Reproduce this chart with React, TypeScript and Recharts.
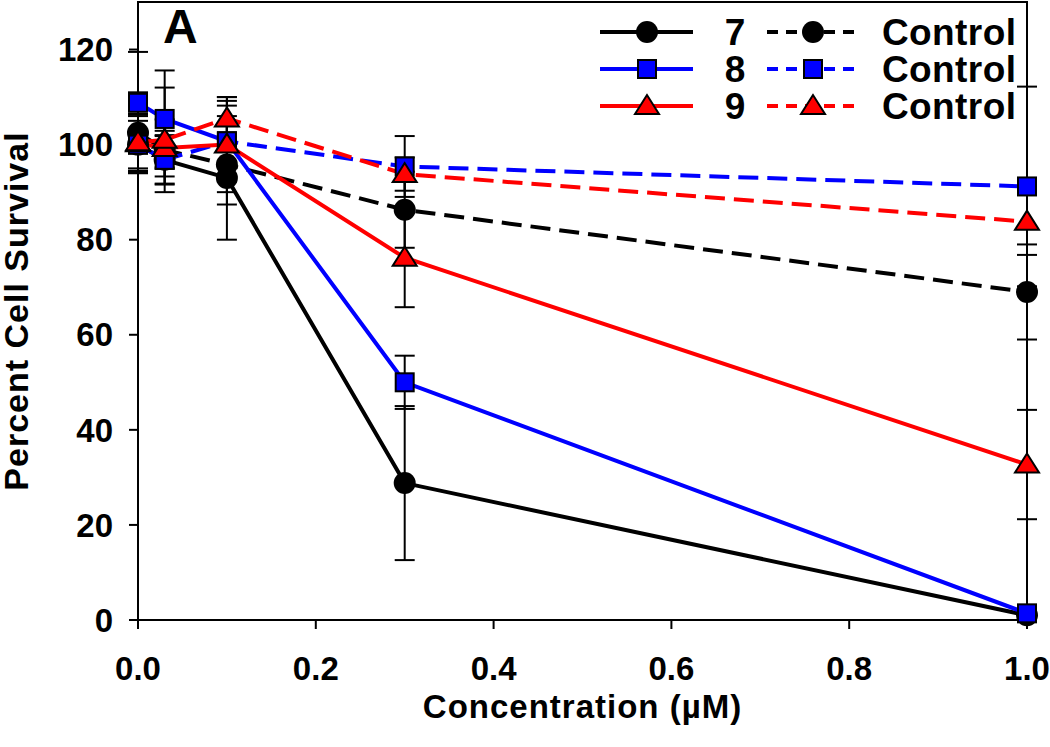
import React from "react";
import { LineChart, Line, XAxis, YAxis, ErrorBar, ReferenceArea, Legend, Label } from "recharts";

// concentrations (µM) shared by every series
const concentrations = [0, 0.03, 0.1, 0.3, 1.0];

const cmpd7 = [100.0, 96.8, 93.0, 28.8, 1.0];
const cmpd7Err = [6, 5.2, 13.0, 16.2, 0];
const ctrl7 = [102.5, 98.9, 95.8, 86.3, 69.0];
const ctrl7Err = [8.5, 4, 8.4, 8, 10];

const cmpd8 = [108.8, 105.4, 100.7, 50.0, 1.4];
const cmpd8Err = [10.7, 10.2, 8.5, 5.6, 0.5];
const ctrl8 = [100.0, 96.8, 100.7, 95.4, 91.2];
const ctrl8Err = [5, 5, 7.5, 6.4, 21];

const cmpd9 = [100.3, 99.3, 100.0, 76.2, 32.7];
const cmpd9Err = [6, 6, 10, 10.4, 11.5];
const ctrl9 = [100.5, 101.0, 105.5, 93.8, 83.8];
const ctrl9Err = [6, 11, 4.5, 3.5, 7];

const xTicks = [0, 0.2, 0.4, 0.6, 0.8, 1.0];
const yTicks = [0, 20, 40, 60, 80, 100, 120];

const FONT = "'Liberation Sans', Arial, Helvetica, sans-serif";

type Shape = "circle" | "square" | "triangle";

type Series = {
  key: string;
  label: string;
  color: string;
  shape: Shape;
  dashed: boolean;
  values: number[];
  errors: number[];
};

const series: Series[] = [
  { key: "c7", label: "7", color: "#000000", shape: "circle", dashed: false, values: cmpd7, errors: cmpd7Err },
  { key: "k7", label: "Control", color: "#000000", shape: "circle", dashed: true, values: ctrl7, errors: ctrl7Err },
  { key: "c8", label: "8", color: "#0000ff", shape: "square", dashed: false, values: cmpd8, errors: cmpd8Err },
  { key: "k8", label: "Control", color: "#0000ff", shape: "square", dashed: true, values: ctrl8, errors: ctrl8Err },
  { key: "c9", label: "9", color: "#ff0000", shape: "triangle", dashed: false, values: cmpd9, errors: cmpd9Err },
  { key: "k9", label: "Control", color: "#ff0000", shape: "triangle", dashed: true, values: ctrl9, errors: ctrl9Err },
];

const data = concentrations.map((conc, i) => {
  const row: Record<string, number> = { conc };
  series.forEach((s) => {
    row[s.key] = s.values[i];
    row[s.key + "Err"] = s.errors[i];
  });
  return row;
});

function Marker({ cx, cy, shape, color }: { cx?: number; cy?: number; shape: Shape; color: string }) {
  if (cx == null || cy == null) return null;
  if (shape === "circle") return <circle cx={cx} cy={cy} r={11} fill="#000" />;
  if (shape === "square")
    return <rect x={cx - 9} y={cy - 9} width={18} height={18} fill={color} stroke="#000" strokeWidth={2} />;
  return (
    <polygon
      points={`${cx},${cy - 11} ${cx - 12},${cy + 8} ${cx + 12},${cy + 8}`}
      fill={color}
      stroke="#000"
      strokeWidth={2}
    />
  );
}

function LegendBox() {
  const rows = [0, 1, 2];
  return (
    <svg width={1050} height={747} style={{ position: "absolute", left: 0, top: 0 }}>
      <text x={163} y={43} fontFamily={FONT} fontWeight="bold" fontSize={48} fill="#000">
        A
      </text>
      {rows.map((r) => {
        const solid = series[r * 2];
        const ctrl = series[r * 2 + 1];
        const y = 32 + r * 37;
        return (
          <g key={r}>
            <line x1={600} x2={693} y1={y} y2={y} stroke={solid.color} strokeWidth={4} />
            <Marker cx={647} cy={y} shape={solid.shape} color={solid.color} />
            <text x={735} y={y + 13} textAnchor="middle" fontFamily={FONT} fontWeight="bold" fontSize={37} fill="#000">
              {solid.label}
            </text>
            <line x1={767} x2={860} y1={y} y2={y} stroke={ctrl.color} strokeWidth={4} strokeDasharray="11 8" />
            <Marker cx={813} cy={y} shape={ctrl.shape} color={ctrl.color} />
            <text x={882} y={y + 13} fontFamily={FONT} fontWeight="bold" fontSize={37} fill="#000" letterSpacing={0.4}>
              {ctrl.label}
            </text>
          </g>
        );
      })}
    </svg>
  );
}

const tickStyle = { fontSize: 33, fontWeight: "bold" as const, fill: "#000", fontFamily: FONT };

export default function App() {
  return (
    <div style={{ position: "absolute", left: 0, top: 0, width: 1050, height: 747, background: "#fff" }}>
      <LineChart width={1050} height={747} data={data} margin={{ top: 2, right: 23, bottom: 0, left: 0 }}>
        <ReferenceArea x1={0} x2={1} y1={0} y2={130} fill="none" stroke="#000" strokeWidth={2} />
        <XAxis
          dataKey="conc"
          type="number"
          domain={[0, 1]}
          ticks={xTicks}
          tickFormatter={(v: number) => v.toFixed(1)}
          height={127}
          tickSize={9}
          tickMargin={28}
          stroke="#000"
          strokeWidth={2}
          tick={tickStyle}
        >
          <Label
            value="Concentration (µM)"
            position="insideBottom"
            offset={29}
            fill="#000"
            style={{ fontSize: 33, fontWeight: "bold", fill: "#000", fontFamily: FONT, letterSpacing: 1 }}
          />
        </XAxis>
        <YAxis
          type="number"
          domain={[0, 130]}
          ticks={yTicks}
          width={138}
          tickSize={9}
          tickMargin={16}
          stroke="#000"
          strokeWidth={2}
          tick={tickStyle}
        >
          <Label
            value="Percent Cell Survival"
            angle={-90}
            position="insideLeft"
            offset={16}
            fill="#000"
            style={{ fontSize: 34, fontWeight: "bold", fill: "#000", fontFamily: FONT, textAnchor: "middle", letterSpacing: 1 }}
          />
        </YAxis>
        {series.map((s) => (
          <Line
            key={s.key}
            dataKey={s.key}
            type="linear"
            stroke={s.color}
            strokeWidth={4}
            strokeDasharray={s.dashed ? "20 9" : undefined}
            isAnimationActive={false}
            activeDot={false}
            dot={(p: any) => <Marker key={`${s.key}-${p.index}`} cx={p.cx} cy={p.cy} shape={s.shape} color={s.color} />}
          >
            <ErrorBar dataKey={s.key + "Err"} width={10} stroke="#000" strokeWidth={2} direction="y" isAnimationActive={false} />
          </Line>
        ))}
        <Legend
          layout="vertical"
          align="center"
          verticalAlign="middle"
          content={() => <LegendBox />}
          wrapperStyle={{ left: 0, top: 0, width: 1050, height: 747, pointerEvents: "none" }}
        />
      </LineChart>
    </div>
  );
}
